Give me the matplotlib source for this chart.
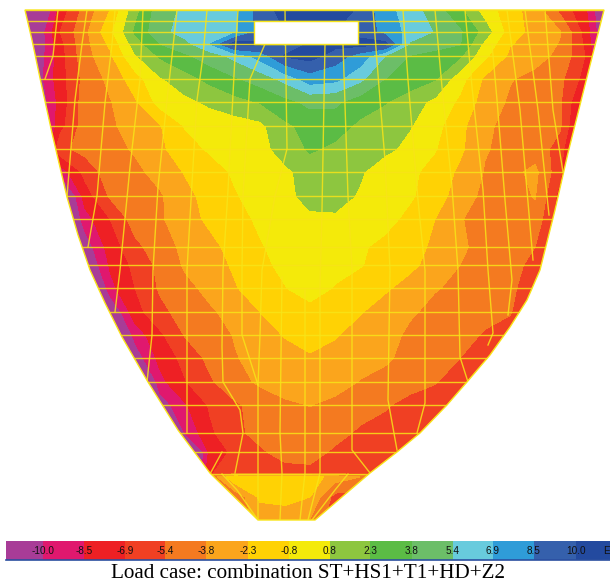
from __future__ import annotations

import matplotlib

matplotlib.use("Agg")
import matplotlib.pyplot as plt
import numpy as np
from matplotlib.colors import BoundaryNorm, ListedColormap
from matplotlib.patches import Polygon, Rectangle

# band limits, same as the tick labels on the strip
LEVELS = [-10.0, -8.5, -6.9, -5.4, -3.8, -2.3, -0.8, 0.8, 2.3, 3.8, 5.4, 6.9, 8.5, 10.0]
BAND_COLORS = [
    "#A83C97", "#E0186E", "#EE2024", "#F04023", "#F47A20", "#FBA51C", "#FFD204", "#F4EA0A",
    "#8DC63F", "#5BBC45", "#6CBE68", "#68CBDD", "#2F9CD8", "#3560AC", "#234A9F",
]
TICK_LABELS = ["-10.0", "-8.5", "-6.9", "-5.4", "-3.8", "-2.3", "-0.8", "0.8", "2.3", "3.8",
               "5.4", "6.9", "8.5", "10.0"]
STRIP_EDGES = [6, 43, 84, 125, 165, 206, 248, 289, 330, 370, 412, 453, 493, 534, 576, 610]

# stress at these image positions
GRID_X = list(range(10, 611, 25))
GRID_Y = [10, 32, 44, 56, 79, 102, 126, 149, 172, 196, 219, 247, 265, 288, 312, 335, 358, 382, 405,
          433, 452, 473, 477, 497, 520]
STRESS = [
    [-14, -14, -7.9, -4.8, -2.3, 1.7, 4.7, 5.7, 6.2, 6.7, 9.2, 10.6, 11, 10.6, 9.8, 7.4, 6.2, 4.5, 2.6, 0, -1.7, -3, -5.8, -8.2, -13],
    [-15, -12, -6.9, -4.2, -1.2, 2.5, 4.9, 6, 6.9, 6.5, 9, 10, 10, 10, 9.5, 8, 6.3, 5.3, 4, 1.6, -1.6, -2.8, -3.7, -7.5, -13],
    [-15, -12, -7.4, -4.3, -2, 1.5, 3.8, 4.9, 6.9, 10.8, 10.3, 8, 10.4, 10.5, 10.5, 10.5, 5.2, 4.6, 3.9, 0.3, -2.2, -3, -3.9, -7.2, -13],
    [-15, -11.5, -7.6, -4.4, -2.6, 0.6, 2.5, 3.5, 4.6, 5.9, 7.5, 10.2, 10.6, 9.3, 7.8, 5.4, 3.7, 3.1, 2.5, -0.5, -2.6, -3.2, -4.2, -6.9, -12],
    [-15, -11.2, -7.6, -4.9, -3.4, -1.5, 0.6, 1.7, 2.7, 3.6, 4.5, 5.9, 7.7, 7.3, 5.8, 3.8, 3.1, 2.4, -0.2, -2.6, -3.7, -4.3, -5, -7.5, -13],
    [-15, -12, -7.9, -4.6, -3.9, -2.5, -0.2, 0.4, 1.1, 1.8, 2.4, 3.3, 4.2, 4.1, 3, 2.4, 1.5, 0.4, -1.1, -3, -4, -4.6, -5.2, -9, -14],
    [-15, -13, -7.5, -4.6, -4, -3.3, -2.4, -0.7, -0.2, 0, 0.4, 2, 2.8, 2.9, 2, 1.4, 0.9, -0.3, -1.9, -3.5, -4.3, -4.7, -5.2, -10, -14],
    [-15, -13, -5.8, -4.9, -4.4, -3.6, -2.6, -1.4, -0.6, -0.2, 0.3, 1.4, 2.5, 2, 1.6, 1.2, 0.3, -0.7, -2, -3.7, -4.2, -4.6, -6, -12, -15],
    [-15, -14, -9.5, -6.4, -4.6, -4.2, -3.2, -2.2, -1.4, -0.6, -0.1, 0.5, 1.4, 1.2, 1, -0.2, -0.5, -1.3, -2.6, -3.9, -4.3, -3.4, -6.5, -13, -15],
    [-16, -15, -14, -7.7, -5.2, -4.5, -4, -2.7, -1.8, -0.9, -0.3, 0.2, 1.5, 1.5, 0.6, 0, -0.6, -1.6, -3, -4.2, -4.5, -3.7, -7.5, -14, -15],
    [-16, -15, -14, -9.2, -6.9, -4.7, -4, -2.9, -2, -1.2, -0.6, -0.2, 0.4, 0.5, 0.1, -0.3, -1.2, -2.3, -3.7, -4.4, -3.9, -4.3, -8, -14, -15],
    [-16, -15, -15, -11, -7.8, -5.8, -4.6, -3.4, -2.7, -1.8, -0.9, -0.4, -0.1, -0.2, -0.6, -1.2, -1.9, -2.5, -3.6, -4.2, -4.8, -5.4, -8, -15, -15],
    [-16, -16, -15, -12, -8.3, -6.5, -5, -3.6, -2.9, -2.1, -1.1, -0.5, -0.2, -0.3, -0.7, -1.4, -2, -2.8, -3.8, -4.3, -4.7, -6, -8, -15, -15],
    [-16, -16, -16, -16, -9, -6.9, -5.2, -4.2, -3.4, -2.4, -1.6, -0.85, 0, -0.9, -1.5, -2.1, -2.8, -3.7, -4.1, -4.4, -4.8, -7, -7, -7, -7],
    [-16, -16, -16, -16, -12, -7.5, -5.8, -4.8, -4, -3.3, -2.3, -1.7, -1.4, -1.7, -2.2, -2.9, -3.6, -4.2, -4.5, -4.8, -5.2, -8, -8, -8, -8],
    [-16, -16, -16, -16, -14, -9.5, -7.2, -5.3, -4.6, -3.7, -3, -2.2, -1.6, -2.2, -2.8, -3.2, -4.1, -4.4, -4.7, -5.6, -6.5, -7, -7, -7, -7],
    [-16, -16, -16, -16, -16, -11, -8, -6.4, -5, -3.9, -3.3, -2.9, -2.5, -2.7, -3, -3.6, -4.2, -4.6, -5.4, -6.2, -6.6, -7, -7, -7, -7],
    [-16, -16, -16, -16, -16, -16, -9, -7, -5.6, -4.5, -3.5, -3, -2.7, -3, -3.9, -4.2, -4.7, -5.3, -6.2, -6.5, -6.6, -7, -7, -7, -7],
    [-16, -16, -16, -16, -16, -16, -11, -8.7, -6.7, -5.6, -4.9, -4.1, -3.75, -4.3, -4.6, -5.2, -6, -6.2, -6.5, -6.6, -7, -7, -7, -7, -7],
    [-16, -16, -16, -16, -16, -16, -16, -10, -7.2, -5.7, -5, -4.7, -4.5, -4.8, -5.7, -6.1, -6.4, -6.5, -6.6, -7, -7, -7, -7, -7, -7],
    [-16, -16, -16, -16, -16, -16, -16, -16, -8, -6.5, -5.6, -4.9, -4.7, -5.7, -6, -6.2, -6.5, -6.6, -7, -7, -7, -7, -7, -7, -7],
    [-16, -16, -16, -16, -16, -16, -16, -16, -7, -6.3, -6, -5.9, -5.9, -6, -6.2, -6.5, -6.6, -7, -7, -7, -7, -7, -7, -7, -7],
    [-6, -6, -6, -6, -6, -6, -6, -6, -5, -0.9, -1.5, -1.2, -1.6, -2.9, -3.8, -6, -6, -6, -6, -6, -6, -6, -6, -6, -6],
    [-6, -6, -6, -6, -6, -6, -6, -6, -6, -5, -2, -1.9, -2.3, -6, -6, -6, -6, -6, -6, -6, -6, -6, -6, -6, -6],
    [-6, -6, -6, -6, -6, -6, -6, -6, -6, -5, -3.3, -3, -3.9, -6.5, -6, -6, -6, -6, -6, -6, -6, -6, -6, -6, -6],
]

DAM_X = [25, 32, 40, 52, 67, 78, 90, 105, 122, 148, 178, 210, 258, 315, 370, 397, 420, 447, 467,
         490, 510, 527, 540, 555, 568, 585, 604]
DAM_Y = [10, 40, 78, 133, 197, 235, 270, 303, 337, 382, 430, 473, 520, 520, 473, 452, 433, 405,
         382, 355, 327, 300, 270, 210, 153, 85, 10]
HOLE_X = [254, 358]
HOLE_Y = [21, 44]

# mesh of the model
MESH_ROWS = [10, 21, 32, 44, 56, 79, 102, 126, 149, 172, 196, 219, 247, 265, 288, 312, 335, 358,
             382, 405, 433, 452, 474]
MESH_COLS = [
    ([58, 53, 45], [10, 56, 79]),
    ([87, 82, 75, 67], [10, 44, 100, 196]),
    ([115, 112, 105, 97, 88], [10, 44, 103, 196, 247]),
    ([143, 141, 140, 130, 120, 115], [10, 56, 79, 167, 270, 312]),
    ([177, 172, 167, 158, 153, 152, 147], [10, 56, 100, 187, 270, 335, 382]),
    ([207, 203, 197, 192, 187, 187], [10, 56, 100, 183, 270, 433]),
    ([238, 235, 228, 223, 222, 223, 240, 243, 235], [10, 56, 190, 270, 347, 382, 410, 433, 473]),
    ([265, 250, 243, 242, 242, 258, 258], [44, 79, 196, 270, 335, 385, 520]),
    ([285, 287, 275, 262, 260, 258], [10, 149, 196, 270, 335, 385]),
    ([282, 280, 282, 280], [277, 433, 473, 520]),
    ([305, 305, 300], [290, 473, 520]),
    ([325, 322, 320, 320, 308], [44, 210, 287, 473, 520]),
    ([343, 348, 352, 352, 370], [44, 196, 270, 450, 473]),
    ([373, 380, 385, 390, 388, 397], [10, 100, 160, 270, 400, 450]),
    ([403, 408, 418, 425, 425, 417], [10, 80, 200, 270, 403, 433]),
    ([435, 442, 452, 458, 460, 468], [10, 87, 187, 270, 357, 382]),
    ([465, 472, 483, 488, 493, 488], [10, 87, 190, 270, 333, 345]),
    ([492, 497, 505, 512, 508], [44, 100, 200, 280, 315]),
    ([507, 520, 533], [10, 110, 260]),
    ([525, 538, 549], [10, 110, 215]),
    ([545, 553, 563], [10, 110, 172]),
    ([222, 210], [452, 474]),
    ([222, 237, 258], [474, 490, 520]),
    ([348, 335, 312], [474, 490, 520]),
]
MESH_COLOR = "#F8E418"


def main() -> None:
    fig = plt.figure(figsize=(6.10, 5.85), dpi=100)
    ax = fig.add_axes([0, 0, 1, 1])
    ax.set_xlim(0, 610)
    ax.set_ylim(585, 0)
    ax.axis("off")

    cmap = ListedColormap(BAND_COLORS)
    bounds = [-100] + LEVELS + [100]
    norm = BoundaryNorm(bounds, cmap.N)

    dam = Polygon(np.column_stack([DAM_X, DAM_Y]), closed=True, facecolor="none",
                  edgecolor=MESH_COLOR, lw=1.0, zorder=4)
    ax.add_patch(dam)
    field = ax.contourf(GRID_X, GRID_Y, np.array(STRESS), levels=bounds, cmap=cmap, norm=norm,
                        antialiased=False, zorder=1)
    field.set_clip_path(dam)

    for y in MESH_ROWS:
        line, = ax.plot([0, 610], [y, y], color=MESH_COLOR, lw=1.0, alpha=0.85, zorder=2)
        line.set_clip_path(dam)
    for xs, ys in MESH_COLS:
        line, = ax.plot(xs, ys, color=MESH_COLOR, lw=1.0, alpha=0.85, zorder=2)
        line.set_clip_path(dam)

    ax.add_patch(Rectangle((HOLE_X[0], HOLE_Y[0]), HOLE_X[1] - HOLE_X[0], HOLE_Y[1] - HOLE_Y[0],
                           facecolor="white", edgecolor=MESH_COLOR, lw=1.0, zorder=3))

    # legend strip
    strip = np.arange(len(BAND_COLORS)).reshape(1, -1)
    ax.pcolormesh(STRIP_EDGES, [541, 560], strip, cmap=cmap, vmin=-0.5, vmax=len(BAND_COLORS) - 0.5,
                  zorder=1)
    ax.plot([6, 610], [560, 560], color="#2B4FA0", lw=1.2, zorder=2)
    for x, label in zip(STRIP_EDGES[1:], TICK_LABELS):
        ax.text(x, 550.5, label, ha="center", va="center", fontsize=7.2,
                family="Liberation Sans", color="#111111", zorder=3)
    ax.text(607, 550.5, "E", ha="center", va="center", fontsize=7.2,
            family="Liberation Sans", color="#111111", zorder=3)

    ax.text(308, 573, "Load case: combination ST+HS1+T1+HD+Z2", ha="center", va="center",
            fontsize=15.2, family="Liberation Serif", color="black")

    fig.savefig("out.png", dpi=100, facecolor="white")
    plt.close(fig)


if __name__ == "__main__":
    main()
